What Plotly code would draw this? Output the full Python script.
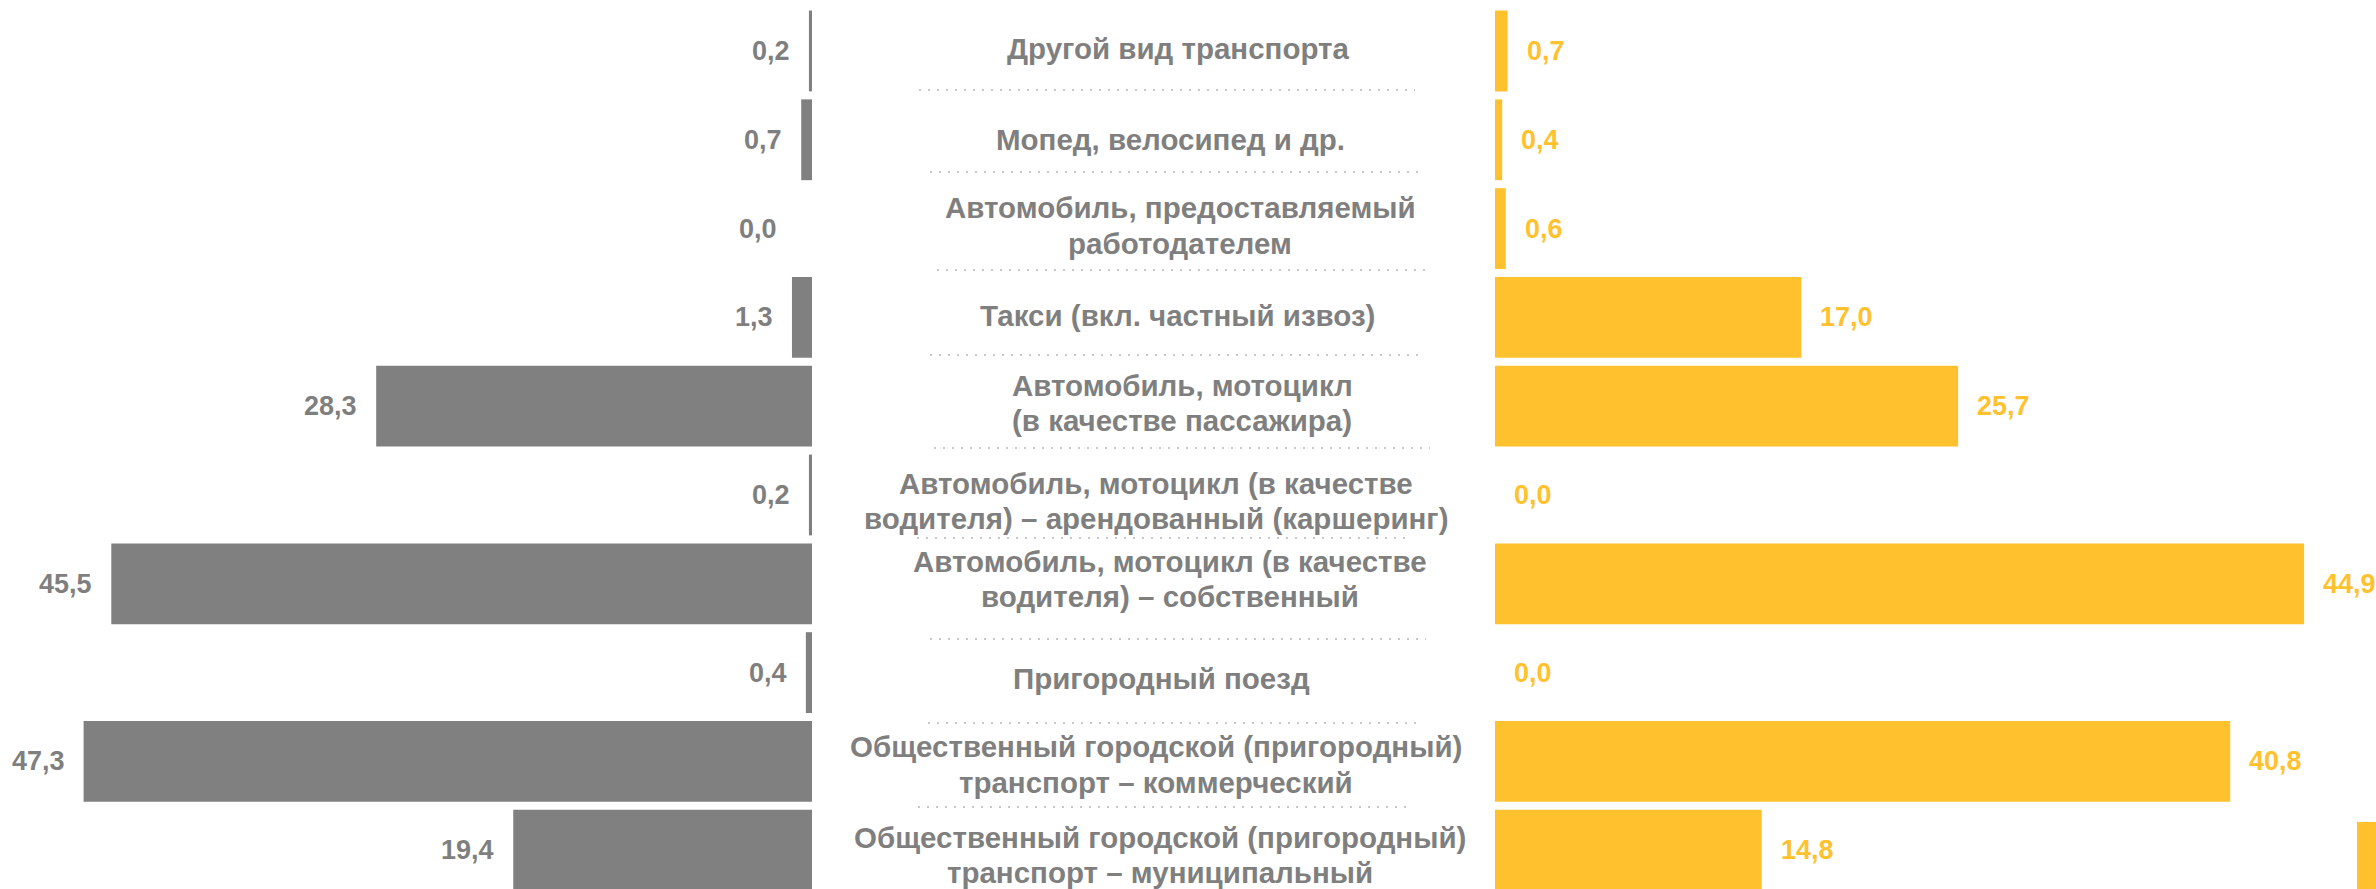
import plotly.graph_objects as go


#------------------------------------------------------------------------------------------------
# Data (top to bottom)
categories = [
    'Другой вид транспорта',
    'Мопед, велосипед и др.',
    'Автомобиль, предоставляемый<br>работодателем',
    'Такси (вкл. частный извоз)',
    'Автомобиль, мотоцикл<br>(в качестве пассажира)',
    'Автомобиль, мотоцикл (в качестве<br>водителя) – арендованный (каршеринг)',
    'Автомобиль, мотоцикл (в качестве<br>водителя) – собственный',
    'Пригородный поезд',
    'Общественный городской (пригородный)<br>транспорт – коммерческий',
    'Общественный городской (пригородный)<br>транспорт – муниципальный',
]

values_left  = [0.2, 0.7, 0.0, 1.3, 28.3, 0.2, 45.5, 0.4, 47.3, 19.4]
values_right = [0.7, 0.4, 0.6, 17.0, 25.7, 0.0, 44.9, 0.0, 40.8, 14.8]


#------------------------------------------------------------------------------------------------
# Styling / layout (pixels in the 2376x889 page)
GREY      = '#808080'
YELLOW    = '#FFC22E'
TEXT_GREY = '#7F7F7F'
DOT_GREY  = '#C8C8C8'
FONT      = 'Arial, Liberation Sans, sans-serif'

W, H      = 2376, 889
LINE_STEP = 35.4

# horizontal centre and vertical nudge (down = positive) of each centre label
label_cx = [1178, 1170, 1180, 1177, 1182, 1156, 1170, 1161, 1156, 1160]
label_dy = [-2, 0, -3, -2, -3, 6, -5, 6, 3, 5]

# dotted separators under the labels: (y, x0, x1)
separators = [
    (90, 919, 1415), (172, 930, 1425), (270, 937, 1431), (355, 930, 1425),
    (448, 934, 1430), (538, 917, 1412), (639, 930, 1426), (723, 928, 1421),
    (807, 918, 1411),
]


def fmt(v):
    return f'{v:.1f}'.replace('.', ',')


#------------------------------------------------------------------------------------------------
fig = go.Figure()

fig.add_trace(go.Bar(
    x                 = values_left,
    y                 = categories,
    orientation       = 'h',
    marker_color      = GREY,
    marker_line_width = 0,
    xaxis             = 'x',
    yaxis             = 'y',
    hoverinfo         = 'skip',
))

fig.add_trace(go.Bar(
    x                 = values_right,
    y                 = categories,
    orientation       = 'h',
    marker_color      = YELLOW,
    marker_line_width = 0,
    xaxis             = 'x2',
    yaxis             = 'y',
    hoverinfo         = 'skip',
))

# value labels
for cat, v in zip(categories, values_left):
    fig.add_annotation(
        x=v, y=cat, xref='x', yref='y', text=fmt(v), showarrow=False,
        xanchor='right', xshift=-33 if v == 0 else -17,
        font=dict(family=FONT, size=27, color=TEXT_GREY, weight='bold'),
    )

for cat, v in zip(categories, values_right):
    fig.add_annotation(
        x=v, y=cat, xref='x2', yref='y', text=fmt(v), showarrow=False,
        xanchor='left', xshift=17,
        font=dict(family=FONT, size=27, color=YELLOW, weight='bold'),
    )

# centre category labels, one annotation per line to get a tighter line spacing
for cat, cx, dy in zip(categories, label_cx, label_dy):
    lines = cat.split('<br>')
    n = len(lines)
    for j, line in enumerate(lines):
        fig.add_annotation(
            x=cx / W, y=cat, xref='paper', yref='y', text=line, showarrow=False,
            xanchor='center', yanchor='middle',
            yshift=((n - 1) / 2 - j) * LINE_STEP - dy,
            font=dict(family=FONT, size=29.5, color=TEXT_GREY, weight='bold'),
        )

# dotted separators between rows
for y, x0, x1 in separators:
    fig.add_shape(
        type='line', xref='paper', yref='paper',
        x0=x0 / W, x1=x1 / W, y0=1 - y / H, y1=1 - y / H,
        line=dict(color=DOT_GREY, width=2, dash='2px,7px'),
    )

# partial bar at the bottom-right edge
fig.add_shape(
    type='rect', xref='paper', yref='paper',
    x0=2357 / W, x1=1, y0=0, y1=(H - 822) / H,
    fillcolor=YELLOW, line_width=0, layer='above',
)

fig.update_layout(
    width         = W,
    height        = H,
    margin        = dict(l=0, r=0, t=0, b=0),
    paper_bgcolor = 'white',
    plot_bgcolor  = 'white',
    showlegend    = False,
    bargap        = 0.09,
    xaxis  = dict(domain=[0, 812 / W], range=[812 / 15.4, 0], visible=False, fixedrange=True),
    xaxis2 = dict(domain=[1495 / W, 1], range=[0, 881 / 18.02], visible=False, fixedrange=True),
    yaxis  = dict(
        type          = 'category',
        categoryorder = 'array',
        categoryarray = categories,
        range         = [9.437, -0.574],
        visible       = False,
        fixedrange    = True,
    ),
)

for trace in fig.data:
    trace.cliponaxis = False

fig.write_html(
    'out.html',
    config      = {'displayModeBar': False},
    post_script = "document.body.style.margin='0';document.body.style.overflow='hidden';",
)
